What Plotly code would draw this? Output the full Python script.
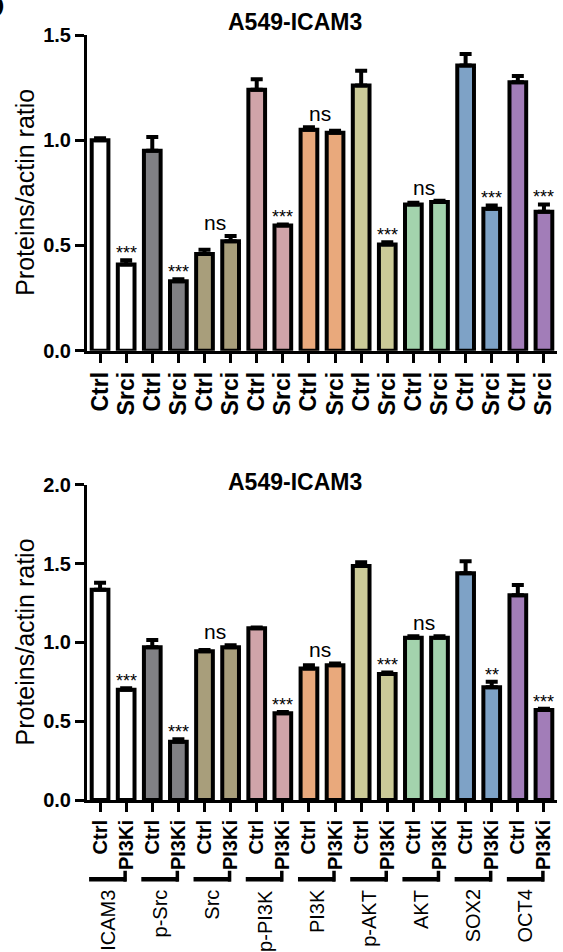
import plotly.graph_objects as go

# ---------------- data ----------------
proteins = ["ICAM3", "p-Src", "Src", "p-PI3K", "PI3K", "p-AKT", "AKT", "SOX2", "OCT4"]
colors = ["#ffffff", "#808084", "#a89e7b", "#d0a4a9", "#e9a97c",
          "#cbca98", "#a3d3ad", "#7ea2c6", "#a27db8"]

top_ctrl = [1.00, 0.95, 0.46, 1.24, 1.05, 1.26, 0.695, 1.355, 1.275]
top_ctrl_err = [0.01, 0.065, 0.02, 0.05, 0.012, 0.07, 0.008, 0.055, 0.03]
top_srci = [0.41, 0.33, 0.52, 0.595, 1.035, 0.505, 0.706, 0.675, 0.66]
top_srci_err = [0.02, 0.01, 0.025, 0.005, 0.01, 0.01, 0.007, 0.015, 0.035]
top_sig = ["***", "***", "ns", "***", "ns", "***", "ns", "***", "***"]

bot_ctrl = [1.335, 0.97, 0.945, 1.09, 0.835, 1.485, 1.03, 1.44, 1.30]
bot_ctrl_err = [0.045, 0.045, 0.008, 0.005, 0.02, 0.025, 0.01, 0.075, 0.065]
bot_pi3ki = [0.70, 0.37, 0.97, 0.55, 0.855, 0.80, 1.03, 0.715, 0.571]
bot_pi3ki_err = [0.01, 0.015, 0.012, 0.008, 0.012, 0.01, 0.01, 0.035, 0.008]
bot_sig = ["***", "***", "ns", "***", "ns", "***", "ns", "**", "***"]

title_text = "A549-ICAM3"
ytitle_text = "Proteins/actin ratio"
top_labels = ["Ctrl", "Srci"]
bot_labels = ["Ctrl", "PI3Ki"]

FONT = "Liberation Sans, Arial, sans-serif"

fig = go.Figure()


def add_panel(ctrl, ctrl_err, trt, trt_err, xa, ya):
    xs, ys, es, cs = [], [], [], []
    for i in range(len(proteins)):
        xs += [2 * i, 2 * i + 1]
        ys += [ctrl[i], trt[i]]
        es += [ctrl_err[i], trt_err[i]]
        cs += [colors[i], colors[i]]
    fig.add_trace(go.Bar(
        x=xs, y=ys, width=0.64, xaxis=xa, yaxis=ya,
        marker=dict(color=cs, line=dict(color="black", width=4)),
        error_y=dict(type="data", array=es, arrayminus=[0] * len(es),
                     symmetric=False, color="black", thickness=4, width=6),
        showlegend=False, hoverinfo="skip"))


add_panel(top_ctrl, top_ctrl_err, top_srci, top_srci_err, "x", "y")
add_panel(bot_ctrl, bot_ctrl_err, bot_pi3ki, bot_pi3ki_err, "x2", "y2")

annotations = []


def add_sig(ctrl, ctrl_err, trt, trt_err, sig, xref, yref):
    for i, s in enumerate(sig):
        if s == "ns":
            top = max(ctrl[i] + ctrl_err[i], trt[i] + trt_err[i])
            annotations.append(dict(x=2 * i + 0.42, y=top, xref=xref, yref=yref,
                                    text=s, showarrow=False, yanchor="bottom",
                                    yshift=0, font=dict(family=FONT, size=21, color="black")))
        else:
            annotations.append(dict(x=2 * i + 1, y=trt[i] + trt_err[i], xref=xref, yref=yref,
                                    text=s, showarrow=False, yanchor="bottom",
                                    yshift=-5, font=dict(family=FONT, size=18, color="black")))


add_sig(top_ctrl, top_ctrl_err, top_srci, top_srci_err, top_sig, "x", "y")
add_sig(bot_ctrl, bot_ctrl_err, bot_pi3ki, bot_pi3ki_err, bot_sig, "x2", "y2")

TOP_DOM = [0.5873, 1.0]
BOT_DOM = [0.0, 0.4118]

# titles (paper y of the cap-centre of each title)
for yd, ty in ((TOP_DOM, 1.0175), (BOT_DOM, 0.4160)):
    annotations.append(dict(x=0.4426, y=ty, xref="paper", yref="paper",
                            text="<b>" + title_text + "</b>", showarrow=False,
                            yanchor="middle",
                            font=dict(family=FONT, size=23, color="black")))
    annotations.append(dict(x=0, y=(yd[0] + yd[1]) / 2, xref="paper", yref="paper",
                            text=ytitle_text, showarrow=False, textangle=-90,
                            xanchor="center", yanchor="middle", xshift=-62,
                            font=dict(family=FONT, size=25, color="black")))

# group labels + brackets for bottom panel
shapes = []
for i, p in enumerate(proteins):
    annotations.append(dict(x=2 * i + 0.29, y=-0.1145, xref="x2", yref="paper",
                            text=p, showarrow=False, textangle=-90,
                            xanchor="center", yanchor="top",
                            font=dict(family=FONT, size=20, color="black")))
    shapes.append(dict(type="line", xref="x2", yref="paper",
                       x0=2 * i - 0.42, x1=2 * i + 1.0, y0=-0.1037, y1=-0.1037,
                       line=dict(color="black", width=4.5)))
    shapes.append(dict(type="line", xref="x2", yref="paper",
                       x0=2 * i + 0.96, x1=2 * i + 0.96, y0=-0.1067, y1=-0.0925,
                       line=dict(color="black", width=3.5)))

# cut-off panel letter at top-left
annotations.append(dict(x=0, y=1.0, xref="paper", yref="paper", text="<b>D</b>",
                        showarrow=False, xanchor="right", yanchor="bottom",
                        xshift=-80, yshift=8,
                        font=dict(family=FONT, size=34, color="black")))

ax_common = dict(showline=True, linewidth=3, linecolor="black", ticks="outside",
                 ticklen=9, tickwidth=3, tickcolor="black", showgrid=False,
                 zeroline=False)

fig.update_layout(
    width=563, height=952,
    margin=dict(l=87, r=6, t=35, b=152),
    plot_bgcolor="white", paper_bgcolor="white",
    font=dict(family=FONT, color="black"),
    bargap=0.2,
    xaxis=dict(domain=[0, 1], anchor="y", range=[-0.5, 17.5],
               tickmode="array", tickvals=list(range(18)),
               ticktext=top_labels * 9, tickangle=-90,
               tickfont=dict(family=FONT, size=23, weight="bold"), **ax_common),
    yaxis=dict(domain=TOP_DOM, anchor="x", range=[0, 1.5], dtick=0.5,
               tickformat=".1f",
               tickfont=dict(family=FONT, size=20, weight="bold"), **ax_common),
    xaxis2=dict(domain=[0, 1], anchor="y2", range=[-0.5, 17.5],
                tickmode="array", tickvals=list(range(18)),
                ticktext=bot_labels * 9, tickangle=-90,
                tickfont=dict(family=FONT, size=20, weight="bold"), **ax_common),
    yaxis2=dict(domain=BOT_DOM, anchor="x2", range=[0, 2.0], dtick=0.5,
                tickformat=".1f",
                tickfont=dict(family=FONT, size=20, weight="bold"), **ax_common),
    annotations=annotations,
    shapes=shapes,
)

fig.write_html("out.html")
